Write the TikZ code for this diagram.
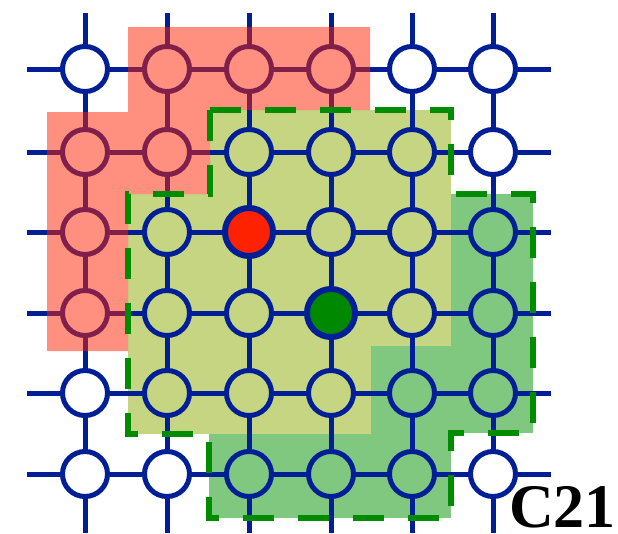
\documentclass[tikz,border=0pt]{standalone}
\usepackage{fontspec}
\setmainfont{Liberation Serif}
\definecolor{gridblue}{RGB}{0,30,150}
\definecolor{redfill}{RGB}{255,34,0}
\definecolor{greenfill}{RGB}{0,136,0}
\definecolor{dashgreen}{RGB}{0,140,0}
\definecolor{lgreen}{RGB}{197,213,130}
\definecolor{dgreen}{RGB}{128,200,128}
\begin{document}
\begin{tikzpicture}[x=1pt,y=-1pt,
  gnode/.style={circle,draw=gridblue,line width=5pt,inner sep=0pt,outer sep=0pt,minimum size=45pt},
  hotnode/.style={gnode,line width=6pt,minimum size=48pt},
  s33/.style={hotnode,fill=redfill},
  s44/.style={hotnode,fill=greenfill},
  link/.style={draw=gridblue,line width=5pt},
  region/.style={draw=none},
  overlay/.style={fill=redfill,fill opacity=0.5},
  border/.style={draw=dashgreen,line width=6pt,dash pattern=on 31pt off 24pt,line join=miter}]
\useasboundingbox (0,0) rectangle (618,533);
% green regions
\fill[dgreen,region] (451,194) rectangle (533,433);
\fill[dgreen,region] (371,346) rectangle (451,518);
\fill[dgreen,region] (209,434) rectangle (451,518);
\fill[lgreen,region] (210,110) rectangle (451,194);
\fill[lgreen,region] (128,194) rectangle (451,346);
\fill[lgreen,region] (128,346) rectangle (371,434);
% nodes
\foreach \x [count=\c] in {85,167,249,331,412,493} {
  \foreach \y [count=\r] in {69,152,232,313,393,474} {
    \node[gnode,s\r\c/.try] (n\r\c) at (\x,\y) {};
  }
  \coordinate (T\c) at (\x,13);
  \coordinate (B\c) at (\x,533);
}
\foreach \y [count=\r] in {69,152,232,313,393,474} {
  \coordinate (L\r) at (27,\y);
  \coordinate (R\r) at (551,\y);
}
% links
\foreach \r in {1,...,6} {
  \draw[link] (L\r) -- (n\r1);
  \draw[link] (n\r6) -- (R\r);
  \draw[link] (T\r) -- (n1\r);
  \draw[link] (n6\r) -- (B\r);
  \foreach \c [evaluate=\c as \d using int(\c+1)] in {1,...,5} {
    \draw[link] (n\r\c) -- (n\r\d);
    \draw[link] (n\c\r) -- (n\d\r);
  }
}
% red overlay
\fill[overlay] (128,27) -- (370,27) -- (370,110) -- (210,110) -- (210,194) -- (128,194) -- cycle
  (47,112) rectangle (128,351);
% dashed border
\draw[border] (210,110) -- (451,110) -- (451,194) -- (533,194) -- (533,433) -- (451,433)
  -- (451,518) -- (209,518) -- (209,434) -- (128,434) -- (128,194) -- (210,194) -- cycle;
% label
\node[anchor=base east,inner sep=0pt,font=\bfseries\fontsize{62}{62}\selectfont] (lbl) at (616,527) {C21};
\end{tikzpicture}
\end{document}
